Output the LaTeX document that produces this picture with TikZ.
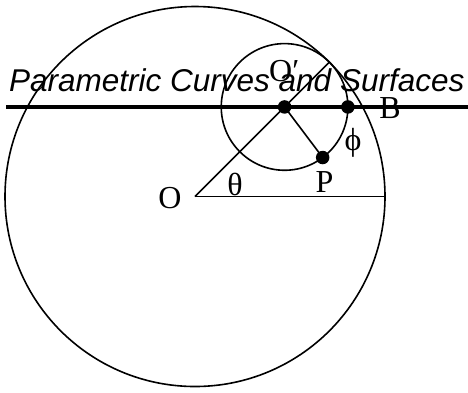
\documentclass[tikz,border=0pt]{standalone}
\usepackage{fontspec}
\usetikzlibrary{calc}
\setmainfont{Liberation Serif}
\newfontfamily\titlefont{Liberation Sans}
\begin{document}
\begin{tikzpicture}[x=1pt,y=-1pt,
  thinline/.style={line width=1.6pt,black},
  thickline/.style={line width=3.4pt,black},
  dotnode/.style={circle,fill=black,inner sep=0pt,minimum size=13.5pt},
  lbl/.style={inner sep=0pt,anchor=base,font=\fontsize{32}{32}\selectfont}]
\useasboundingbox (0,0) rectangle (468,392);
% points
\coordinate (O) at (195,196.5);
\coordinate (Op) at ($(O)+(45:126.67pt)$);
\coordinate (R0) at ($(O)+(190,0)$);
\coordinate (T) at ($(O)+(45:190pt)$);
\coordinate (HL) at (6,0 |- Op);
\coordinate (HR) at (468,0 |- Op);
% circles
\draw[thinline] (O) circle[radius=190];
\draw[thinline] (Op) circle[radius=63.33];
% lines
\draw[thickline] (HL) -- (HR);
\draw[thinline] (O) -- (R0);
\draw[thinline] (O) -- (T);
\node[dotnode] (Od) at (Op) {};
\node[dotnode] (B) at ($(Op)+(0:63.33pt)$) {};
\node[dotnode] (P) at ($(Op)+(-53:63.33pt)$) {};
\draw[thinline] (Od.center) -- (P.center);
% labels
\node[lbl] (lO) at (170,208) {O};
\node[lbl] (lth) at (235,195) {θ};
\node[lbl] (lP) at (324.5,192) {P};
\node[lbl] (lphi) at (353,150.5) {ϕ};
\node[lbl] (lB) at (390,118) {B};
\node[lbl,anchor=base west] (lOp) at (269,81) {O′};
% title
\node[inner sep=0pt,anchor=base west,font=\titlefont\itshape\fontsize{31.5}{31.5}\selectfont] (title) at (9,91) {Parametric Curves and Surfaces};
\end{tikzpicture}
\end{document}
